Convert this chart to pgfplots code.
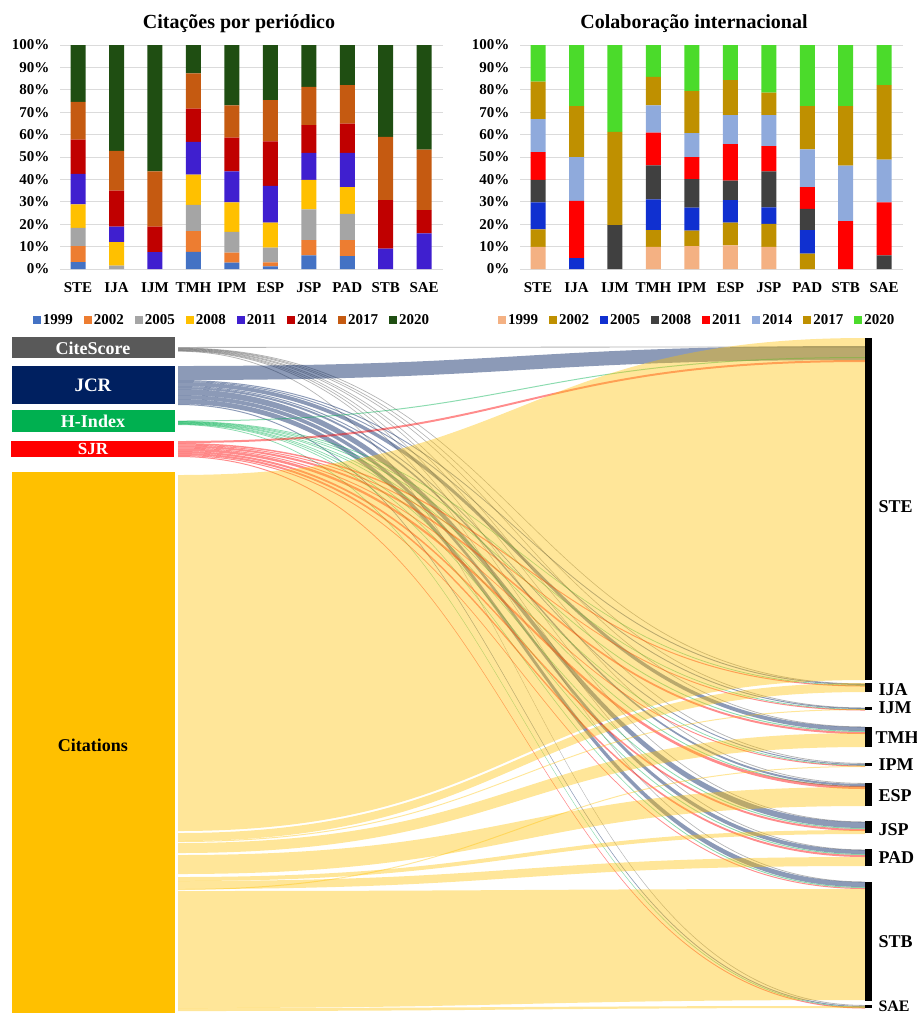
\documentclass[border=0pt]{standalone}
\usepackage{fontspec}
\setmainfont{Liberation Serif}
\usepackage{pgfplots}
\usepackage{pgfplotstable}
\pgfplotsset{compat=1.18}

% colours, left chart
\definecolor{a99}{HTML}{4472C4}
\definecolor{a02}{HTML}{ED7D31}
\definecolor{a05}{HTML}{A5A5A5}
\definecolor{a08}{HTML}{FFC000}
\definecolor{a11}{HTML}{3F1FCF}
\definecolor{a14}{HTML}{C00000}
\definecolor{a17}{HTML}{C55A11}
\definecolor{a20}{HTML}{1F4E12}
% colours, right chart
\definecolor{b99}{HTML}{F4B183}
\definecolor{b02}{HTML}{BF9000}
\definecolor{b05}{HTML}{1030D0}
\definecolor{b08}{HTML}{404040}
\definecolor{b11}{HTML}{FF0000}
\definecolor{b14}{HTML}{8FAADC}
\definecolor{b17}{HTML}{BF9000}
\definecolor{b20}{HTML}{4BDB2B}
% sankey
\definecolor{cs}{HTML}{595959}
\definecolor{jcr}{HTML}{002060}
\definecolor{hidx}{HTML}{00B050}
\definecolor{sjr}{HTML}{FF0000}
\definecolor{cit}{HTML}{FFC000}

\tikzset{
  fcs/.style={fill=cs, fill opacity=0.45},
  fjcr/.style={fill=jcr, fill opacity=0.45},
  fhi/.style={fill=hidx, fill opacity=0.45},
  fsjr/.style={fill=sjr, fill opacity=0.45},
  fcit/.style={fill=cit, fill opacity=0.4},
}

\newcommand{\tickfont}{\bfseries\fontsize{15}{17}\selectfont}

\pgfplotsset{
  bb/.style={fill=#1, draw=none,
    legend image code/.code={\fill[##1] (0pt,-4pt) rectangle (8pt,4pt);}},
  barchart/.style={
    ybar stacked, bar width=15pt,
    scale only axis, width=383pt, height=224pt,
    xmin=-0.47, xmax=9.49, ymin=0, ymax=100,
    xtick={0,...,9},
    xticklabels={STE,IJA,IJM,TMH,IPM,ESP,JSP,PAD,STB,SAE},
    ytick={0,10,...,100},
    yticklabels={0\%,10\%,20\%,30\%,40\%,50\%,60\%,70\%,80\%,90\%,100\%},
    ymajorgrids, grid style={draw=gray!28, line width=0.9pt},
    axis line style={draw=none}, major tick length=0pt,
    tick label style={font=\tickfont},
    xticklabel style={yshift=-10pt},
    yticklabel style={xshift=-7pt},
    legend columns=8,
    legend style={draw=none, fill=none, font=\tickfont, anchor=center,
      /tikz/every even column/.append style={column sep=9pt}},
  },
}

% share of citations per year (%)
\pgfplotstableread{
x  y99  y02  y05  y08  y11  y14  y17  y20
0  3.1  7.1  8.2  10.5 13.6 15.3 16.8 25.4
1  0    0    1.5  10.5 6.9  16.1 17.7 47.3
2  0    0    0    0    7.5  11.4 24.7 56.4
3  7.6  9.3  11.7 13.5 14.6 14.9 15.7 12.7
4  2.8  4.5  9.3  13.2 13.8 15.1 14.4 26.9
5  1.2  1.8  6.6  11.1 16.4 19.9 18.4 24.6
6  6.1  6.8  13.7 13.2 12.0 12.4 17.1 18.7
7  5.7  7.2  11.7 11.9 15.3 13.1 17.2 17.9
8  0    0    0    0    9.1  21.7 28.2 41.0
9  0    0    0    0    15.9 10.4 27.0 46.7
}\citdata

% share of international collaboration per year (%)
\pgfplotstableread{
x  y99  y02  y05  y08  y11  y14  y17  y20
0  9.9  7.8  12.1 10.0 12.4 14.7 16.7 16.4
1  0    0    4.9  0    25.5 19.6 22.7 27.3
2  0    0    0    19.6 0    0    41.6 38.8
3  9.9  7.5  13.7 15.2 14.6 12.1 12.8 14.2
4  10.2 6.9  10.3 12.7 9.9  10.7 18.7 20.6
5  10.6 10.1 10.1 8.6  16.3 13.0 15.6 15.7
6  9.9  10.2 7.4  16.1 11.3 13.8 10.0 21.3
7  0    6.9  10.5 9.4  9.7  16.9 19.3 27.3
8  0    0    0    0    21.4 24.7 26.6 27.3
9  0    0    0    6.1  23.7 19.0 33.3 17.9
}\coldata

% sankey flows: source top/bottom -> target top/bottom (pixel rows)
\pgfplotstableread{
ya     yb     ta     tb     st
347.0  347.8  346.5  347.3  fcs
347.6  348.4  683.5  684.3  fcs
348.0  348.8  707.5  708.3  fcs
348.4  349.2  726.5  727.3  fcs
348.8  349.6  763.0  763.8  fcs
349.2  350.0  783.0  783.8  fcs
349.6  350.4  821.5  822.3  fcs
350.0  350.8  849.5  850.3  fcs
350.4  351.2  881.5  882.3  fcs
350.8  351.6  1005.0 1005.8 fcs
366    380    346    360    fjcr
380    381    684    685    fjcr
381    382    708    709    fjcr
382    386    727    731    fjcr
386    387    764    765    fjcr
387    389    784    786    fjcr
389    395    822    828    fjcr
395    399    850    854    fjcr
399    404    882    887    fjcr
404    405    1006   1007   fjcr
420.5  421.5  357    358    fhi
421.0  421.8  685    685.8  fhi
421.4  422.2  709    709.8  fhi
421.8  422.6  731    732    fhi
422.2  423.0  765    765.8  fhi
422.6  423.4  786    787    fhi
423.0  423.8  828    829    fhi
423.4  424.2  854    855    fhi
423.8  424.6  887    888    fhi
424.2  425.0  1007   1007.8 fhi
441    443    360    362    fsjr
443    444.5  685.5  686.5  fsjr
444.5  445.5  709.5  710.5  fsjr
445.5  447.5  732    734    fsjr
447.5  448.5  765.5  766.5  fsjr
448.5  451    786    789    fsjr
451    453    829    831    fsjr
453    455    855    857    fsjr
455    456    888    889    fsjr
456    457    1007.5 1008.5 fsjr
475    831    338    680    fcit
833    841    683    692    fcit
841    842    709    710    fcit
843    853    733    747    fcit
855    874    787    806    fcit
877    881    830    834    fcit
881    889    857    866    fcit
889    890    766    767    fcit
891    1008   889    1000   fcit
1008   1011   1006   1008   fcit
}\flows
\pgfplotstablegetrowsof{\flows}
\pgfmathtruncatemacro\nflows{\pgfplotsretval-1}

\begin{document}
\begin{tikzpicture}
\useasboundingbox (0pt,0pt) rectangle (917pt,-1015pt);

\node[anchor=base, font=\bfseries\fontsize{20}{22}\selectfont] at (239pt,-28pt) {Citações por periódico};
\node[anchor=base, font=\bfseries\fontsize{20}{22}\selectfont] at (694pt,-28pt) {Colaboração internacional};

\begin{axis}[barchart, at={(60pt,-269pt)}, anchor=south west,
  legend style={at={(0.449,-0.228)}}]
\addplot[bb=a99] table[x=x,y=y99]{\citdata};
\addplot[bb=a02] table[x=x,y=y02]{\citdata};
\addplot[bb=a05] table[x=x,y=y05]{\citdata};
\addplot[bb=a08] table[x=x,y=y08]{\citdata};
\addplot[bb=a11] table[x=x,y=y11]{\citdata};
\addplot[bb=a14] table[x=x,y=y14]{\citdata};
\addplot[bb=a17] table[x=x,y=y17]{\citdata};
\addplot[bb=a20] table[x=x,y=y20]{\citdata};
\legend{1999,2002,2005,2008,2011,2014,2017,2020}
\end{axis}

\begin{axis}[barchart, at={(520pt,-269pt)}, anchor=south west,
  legend style={at={(0.463,-0.228)}}]
\addplot[bb=b99] table[x=x,y=y99]{\coldata};
\addplot[bb=b02] table[x=x,y=y02]{\coldata};
\addplot[bb=b05] table[x=x,y=y05]{\coldata};
\addplot[bb=b08] table[x=x,y=y08]{\coldata};
\addplot[bb=b11] table[x=x,y=y11]{\coldata};
\addplot[bb=b14] table[x=x,y=y14]{\coldata};
\addplot[bb=b17] table[x=x,y=y17]{\coldata};
\addplot[bb=b20] table[x=x,y=y20]{\coldata};
\legend{1999,2002,2005,2008,2011,2014,2017,2020}
\end{axis}

% sankey, axis units are pixel rows/columns of the figure
\begin{axis}[at={(0pt,-1015pt)}, anchor=south west,
  scale only axis, width=917pt, height=680pt,
  xmin=0, xmax=917, ymin=335, ymax=1015, y dir=reverse,
  hide axis, clip=false]
\pgfplotsforeachungrouped \i in {0,...,\nflows}{%
  \pgfplotstablegetelem{\i}{ya}\of\flows\let\fya\pgfplotsretval
  \pgfplotstablegetelem{\i}{yb}\of\flows\let\fyb\pgfplotsretval
  \pgfplotstablegetelem{\i}{ta}\of\flows\let\fta\pgfplotsretval
  \pgfplotstablegetelem{\i}{tb}\of\flows\let\ftb\pgfplotsretval
  \pgfplotstablegetelem{\i}{st}\of\flows\let\fst\pgfplotsretval
  \edef\temp{\noexpand\fill[\fst] (axis cs:178,\fya)
    .. controls (axis cs:521,\fya) and (axis cs:521,\fta) .. (axis cs:865,\fta)
    -- (axis cs:865,\ftb)
    .. controls (axis cs:521,\ftb) and (axis cs:521,\fyb) .. (axis cs:178,\fyb) -- cycle;}%
  \temp
}

% left nodes
\addplot[fill=cs, draw=none] coordinates {(12,337) (175,337) (175,358) (12,358)};
\addplot[fill=jcr, draw=none] coordinates {(12,366) (175,366) (175,404) (12,404)};
\addplot[fill=hidx, draw=none] coordinates {(12,410) (175,410) (175,432) (12,432)};
\addplot[fill=sjr, draw=none] coordinates {(11,441) (174,441) (174,457) (11,457)};
\addplot[fill=cit, draw=none] coordinates {(12,472) (175,472) (175,1013) (12,1013)};

% right nodes
\addplot[fill=black, draw=none] coordinates {(865,338) (872,338) (872,680) (865,680)};
\addplot[fill=black, draw=none] coordinates {(865,683) (872,683) (872,692) (865,692)};
\addplot[fill=black, draw=none] coordinates {(865,707) (872,707) (872,710) (865,710)};
\addplot[fill=black, draw=none] coordinates {(865,727) (872,727) (872,747) (865,747)};
\addplot[fill=black, draw=none] coordinates {(865,763) (872,763) (872,766) (865,766)};
\addplot[fill=black, draw=none] coordinates {(865,783) (872,783) (872,806) (865,806)};
\addplot[fill=black, draw=none] coordinates {(865,821) (872,821) (872,833) (865,833)};
\addplot[fill=black, draw=none] coordinates {(865,849) (872,849) (872,866) (865,866)};
\addplot[fill=black, draw=none] coordinates {(865,882) (872,882) (872,1001) (865,1001)};
\addplot[fill=black, draw=none] coordinates {(865,1005) (872,1005) (872,1008) (865,1008)};

\begin{scope}[font=\bfseries\fontsize{18}{20}\selectfont]
\node[text=white] at (axis cs:93,348) {CiteScore};
\node[text=white, font=\bfseries\fontsize{19}{21}\selectfont] at (axis cs:93,385) {JCR};
\node[text=white] at (axis cs:93,421) {H-Index};
\node[text=white, font=\bfseries\fontsize{17}{19}\selectfont] at (axis cs:93,449) {SJR};
\node at (axis cs:93,745) {Citations};
\node[anchor=west] at (axis cs:875,507) {STE};
\node[anchor=west] at (axis cs:875,690) {IJA};
\node[anchor=west] at (axis cs:875,708) {IJM};
\node[anchor=west] at (axis cs:872,738) {TMH};
\node[anchor=west] at (axis cs:875,765) {IPM};
\node[anchor=west] at (axis cs:875,796) {ESP};
\node[anchor=west] at (axis cs:875,830) {JSP};
\node[anchor=west] at (axis cs:875,858) {PAD};
\node[anchor=west] at (axis cs:875,942) {STB};
\node[anchor=west, font=\bfseries\fontsize{16}{18}\selectfont] at (axis cs:875,1006) {SAE};
\end{scope}
\end{axis}
\end{tikzpicture}
\end{document}
